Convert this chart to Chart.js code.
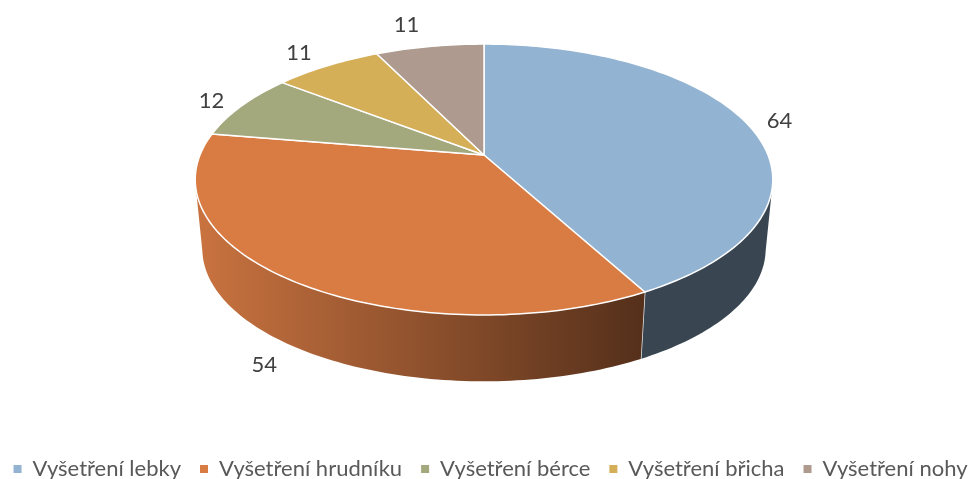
<!DOCTYPE html>
<html>
<head>
<meta charset="utf-8">
<style>
  html, body { margin: 0; padding: 0; background: #fff; }
  #wrap { width: 975px; height: 479px; }
</style>
<script src="https://cdn.jsdelivr.net/npm/chart.js@4/dist/chart.umd.min.js"></script>
</head>
<body>
<div id="wrap"><canvas id="pie"></canvas></div>
<script>
var categories = ['Vyšetření lebky', 'Vyšetření hrudníku', 'Vyšetření bérce', 'Vyšetření břicha', 'Vyšetření nohy'];
var counts = [64, 54, 12, 11, 11];
var sliceColors = ['#92B3D1', '#D97C44', '#A3A87D', '#D5AE58', '#AE9A8F'];

// Perspective view of the disc, Chart.js only gives us the angles
var topDisc = { cx: 484, cy: 155, rx: 284, ry: 131 };
var bottomDisc = { cx: 484, cy: 225, rx: 277, ry: 128 };
var tilt = 0.181;
var labelOffsets = [[32, -3], [-31, 18], [-30, -5], [-28, -13], [-23, -22]];

function project(disc, angle, radius) {
    var u = Math.cos(angle) * radius;
    var v = Math.sin(angle) * radius;
    var s = 1 / (1 - tilt * v);
    return { x: disc.cx + disc.rx * u * s, y: disc.cy + disc.ry * v * s };
}

function traceRim(ctx, disc, from, to) {
    var steps = Math.max(2, Math.ceil(Math.abs(to - from) / 0.02));
    for (var i = 0; i <= steps; i++) {
        var p = project(disc, from + (to - from) * i / steps, 1);
        ctx.lineTo(p.x, p.y);
    }
}

function shade(hex, factor) {
    var n = parseInt(hex.slice(1), 16);
    var r = Math.round((n >> 16 & 255) * factor);
    var g = Math.round((n >> 8 & 255) * factor);
    var b = Math.round((n & 255) * factor);
    return 'rgb(' + r + ',' + g + ',' + b + ')';
}

var pie3d = {
    id: 'pie3d',
    beforeDatasetsDraw: function(chart) {
        var ctx = chart.ctx;
        var arcs = chart.getDatasetMeta(0).data;
        var front = [0.2, Math.PI - 0.2];

        ctx.save();
        ctx.lineJoin = 'round';

        // Side wall, only the part facing us
        arcs.forEach(function(arc, i) {
            var from = Math.max(arc.startAngle, front[0]);
            var to = Math.min(arc.endAngle, front[1]);
            if (to <= from) {
                return;
            }
            var grad = ctx.createLinearGradient(203, 0, 766, 0);
            grad.addColorStop(0, shade(sliceColors[i], 0.92));
            grad.addColorStop(0.78, shade(sliceColors[i], 0.39));
            grad.addColorStop(1, shade(sliceColors[i], 0.39));
            ctx.beginPath();
            traceRim(ctx, topDisc, from, to);
            traceRim(ctx, bottomDisc, to, from);
            ctx.closePath();
            ctx.fillStyle = grad;
            ctx.fill();

            if (arc.endAngle < front[1]) {
                var a = project(topDisc, arc.endAngle, 1);
                var b = project(bottomDisc, arc.endAngle, 1);
                ctx.beginPath();
                ctx.moveTo(a.x, a.y);
                ctx.lineTo(b.x, b.y);
                ctx.strokeStyle = '#e8e8e8';
                ctx.lineWidth = 1.5;
                ctx.stroke();
            }
        });

        // Top face
        arcs.forEach(function(arc, i) {
            var apex = project(topDisc, 0, 0);
            ctx.beginPath();
            ctx.moveTo(apex.x, apex.y);
            traceRim(ctx, topDisc, arc.startAngle, arc.endAngle);
            ctx.closePath();
            ctx.fillStyle = sliceColors[i];
            ctx.fill();
            ctx.strokeStyle = '#fff';
            ctx.lineWidth = 1.5;
            ctx.stroke();
        });

        // Value labels
        ctx.font = '22px Lato';
        ctx.fillStyle = '#404040';
        ctx.textAlign = 'center';
        ctx.textBaseline = 'middle';
        arcs.forEach(function(arc, i) {
            var mid = (arc.startAngle + arc.endAngle) / 2;
            var onFront = Math.sin(mid) > 0.2 && Math.cos(mid) < 0;
            var p = project(onFront ? bottomDisc : topDisc, mid, 1);
            ctx.fillText(String(counts[i]), p.x + labelOffsets[i][0], p.y + labelOffsets[i][1]);
        });

        ctx.restore();
        return false;
    }
};

new Chart(document.getElementById('pie'), {
    type: 'pie',
    data: {
        labels: categories,
        datasets: [{
            data: counts,
            backgroundColor: sliceColors,
            borderWidth: 0
        }]
    },
    options: {
        responsive: true,
        maintainAspectRatio: false,
        animation: false,
        layout: {
            padding: { left: -27, right: -33, bottom: -11 }
        },
        plugins: {
            tooltip: { enabled: false },
            legend: {
                position: 'bottom',
                labels: {
                    boxWidth: 8,
                    boxHeight: 8,
                    padding: 19,
                    color: '#595959',
                    font: { family: 'Lato', size: 22 }
                }
            }
        }
    },
    plugins: [pie3d]
});
</script>
</body>
</html>
